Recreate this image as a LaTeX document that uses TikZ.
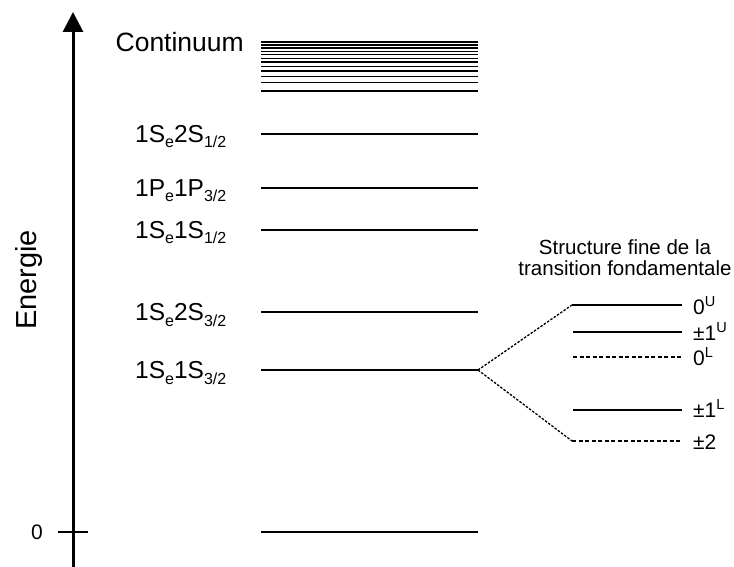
\documentclass[tikz,border=0pt]{standalone}
\usepackage{fontspec}
\setmainfont{Liberation Sans}
\usetikzlibrary{arrows.meta}

\newcommand{\indice}[1]{\raisebox{-5.5pt}{\fontsize{16}{16}\selectfont #1}}
\newcommand{\expo}[1]{\raisebox{8pt}{\fontsize{14.5}{15}\selectfont #1}}

\tikzset{
  niveau/.style={line width=2.2pt},
  fin/.style={line width=2pt},
  fintiret/.style={line width=1.6pt,dash pattern=on 4pt off 2.5pt},
  lien/.style={line width=1.3pt,dash pattern=on 2.5pt off 1.5pt},
  etiq/.style={anchor=base west,inner sep=0pt,font=\fontsize{24.5}{26}\selectfont},
  etiqfin/.style={anchor=base west,inner sep=0pt,font=\fontsize{21}{23}\selectfont},
}

\begin{document}
\begin{tikzpicture}[x=1pt,y=-1pt]
  \useasboundingbox (0,0) rectangle (734,567);

  % axe des energies
  \coordinate (bas) at (73,567);
  \coordinate (haut) at (73,12);
  \draw[line width=3pt,-{Triangle[length=20pt,width=20pt]}] (bas) -- (haut);
  \draw[line width=2.5pt] (58,532) -- (88,532);
  \node[font=\fontsize{21}{23}\selectfont,inner sep=0pt] (zero) at (37,532) {0};
  \node[rotate=90,font=\fontsize{29}{31}\selectfont,inner sep=0pt] (energie) at (29,280) {Energie};

  % continuum
  \foreach \y in {42,45,48,51.3,54.7,58.3,62.2,66.4,71,76.3,82.5,91} {
    \draw[line width=1.5pt] (261,\y) -- (478,\y);
  }
  \node[anchor=base east,inner sep=0pt,font=\fontsize{26.5}{28}\selectfont] (cont) at (244,52) {Continuum};

  % niveaux
  \foreach \y/\n in {134/a,188/b,230/c,312/d,370/e,532/f} {
    \draw[niveau] (261,\y) coordinate (\n g) -- (478,\y) coordinate (\n d);
  }
  \node[etiq] (la) at (135,142.5) {1S\indice{e}2S\indice{1/2}};
  \node[etiq] (lb) at (135,196.5) {1P\indice{e}1P\indice{3/2}};
  \node[etiq] (lc) at (135,238.5) {1S\indice{e}1S\indice{1/2}};
  \node[etiq] (ld) at (135,320.5) {1S\indice{e}2S\indice{3/2}};
  \node[etiq] (le) at (135,378.5) {1S\indice{e}1S\indice{3/2}};

  % structure fine
  \node[align=center,inner sep=0pt,font=\fontsize{20.5}{21}\selectfont] (titre) at (625,258)
    {Structure fine de la\\transition fondamentale};

  \draw[fin] (572,305) coordinate (u0) -- (682,305);
  \draw[fin] (573,332) coordinate (u1) -- (682,332);
  \draw[fintiret] (573,357) coordinate (l0) -- (682,357);
  \draw[fin] (573,410) coordinate (l1) -- (682,410);
  \draw[fintiret] (572,441) coordinate (d2) -- (682,441);

  \node[etiqfin] (tu0) at (693,314) {0\expo{U}};
  \node[etiqfin] (tu1) at (693,340) {±1\expo{U}};
  \node[etiqfin] (tl0) at (693,365) {0\expo{L}};
  \node[etiqfin] (tl1) at (693,417) {±1\expo{L}};
  \node[etiqfin] (td2) at (693,449) {±2};

  \draw[lien] (ed) -- (u0);
  \draw[lien] (ed) -- (d2);
\end{tikzpicture}
\end{document}
